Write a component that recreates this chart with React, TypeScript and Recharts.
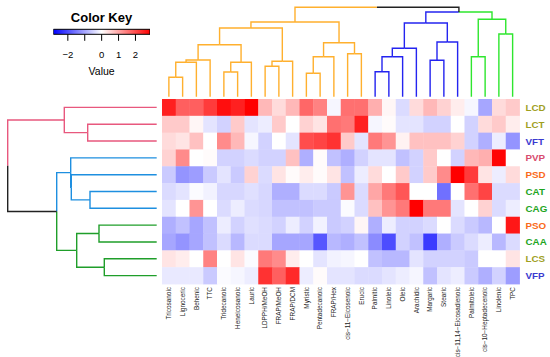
import React from 'react';
import { ScatterChart, Scatter, XAxis, YAxis, BarChart, Bar } from 'recharts';

const FONT = '"Liberation Sans", Arial, Helvetica, sans-serif';

const colLabels = [
  'Tricosanoic', 'Lignoceric', 'Behenic', 'TTC', 'Tridecanoic', 'Heneicosanoic', 'Lauric',
  'LDPPH/MeOH', 'FRAP/MeOH', 'FRAP/DCM', 'Myristic', 'Pentadecanoic', 'FRAP/Hex',
  'cis\u221211\u2212Eicosenoic', 'Erucic', 'Palmitic', 'Linoleic', 'Oleic', 'Arachidic', 'Margaric',
  'Stearic', 'cis\u221211,14\u2212Eicosadienoic', 'Palmitoleic', 'cis\u221210\u2212Heptadecenoic', 'Linolenic', 'TPC',
];

const rowLabels = ['LCD', 'LCT', 'VFT', 'PVP', 'PSD', 'CAT', 'CAG', 'PSO', 'CAA', 'LCS', 'VFP'];
const rowLabelColors = [
  '#9f9f1f', '#9f9f1f', '#3a3ad0', '#d84c6e', '#fa6a1a', '#1ea51e',
  '#1ea51e', '#fa6a1a', '#1ea51e', '#9f9f1f', '#3a3ad0',
];

// scaled values, one row per sample, columns in display order
const heatValues = [
  [2.5, 1.8, 1.8, 2.2, 2.7, 2.5, 2.9, 0.8, 0.4, 0.8, 1.7, 1.4, -0.1, 1.6, 1.6, 0.9, 0.1, -0.4, 0.4, 0.8, 0.5, 0.2, -0.1, -1.0, 0.4, 0.6],
  [0.6, 0.6, 0.1, -0.3, -0.5, 0.6, -0.3, -0.2, 0.6, 0.0, 0.5, 0.3, 1.6, 1.5, 2.5, -0.1, 0.05, -0.3, -0.3, -0.5, -0.5, 0.0, -0.5, 0.4, 0.6, 0.2],
  [0.4, 0.3, 0.7, 0.0, 1.3, 0.8, -0.1, -0.5, 0.0, -0.3, 2.0, 2.1, 2.3, 0.6, -0.3, 1.5, 1.2, 0.15, 0.7, 0.7, 0.7, 0.5, -0.5, -0.9, -0.2, -1.2],
  [0.5, 1.3, 0.0, 0.05, -0.5, -0.5, -0.4, -0.5, -0.5, 0.7, -0.9, 0.05, -0.7, -0.9, -0.5, -0.3, -0.3, -0.7, -0.5, 0.6, 0.0, -0.5, 0.8, 0.9, 2.8, 0.0],
  [-0.6, -1.2, -1.1, -0.6, -0.3, -0.6, 0.5, -0.4, 0.3, 0.05, 0.2, 0.05, 0.3, -0.7, -0.2, 0.4, 0.0, 0.6, -0.5, 0.6, 1.3, 2.9, 2.2, 0.3, -0.2, 0.4],
  [-0.4, -0.3, -0.05, -0.15, -0.45, -0.45, -0.35, -0.45, -0.9, -0.9, -0.4, -0.4, -0.6, 1.2, -0.4, 1.0, 1.5, 1.9, 0.0, 0.0, -1.6, 0.0, 1.6, 2.1, -0.4, -0.4],
  [-0.3, 0.0, 1.2, 0.0, -0.4, -0.2, -0.4, -0.45, -0.7, -0.7, -0.7, -0.6, -0.6, -0.05, -0.4, 0.7, 1.2, 1.5, 2.9, 1.5, 1.5, -0.3, 0.0, 0.5, -0.4, -0.2],
  [-0.9, -0.7, -1.0, -0.7, -0.2, -0.5, -0.35, -0.4, -0.5, -0.2, -0.5, -0.15, -0.6, -0.5, 0.1, -0.9, -0.2, -0.5, -0.5, -0.4, 0.0, -0.4, -0.6, -0.8, 0.0, 2.6],
  [-1.0, -1.2, -1.0, -0.7, -0.4, -0.8, -0.4, -0.4, -1.0, -1.0, -1.0, -1.9, -0.8, -0.9, -0.7, -1.3, -2.0, -0.5, -0.7, -2.2, -0.9, -0.6, -0.4, -0.2, -0.8, -0.4],
  [0.3, 0.2, 0.0, 1.4, 0.0, 0.3, -0.05, 1.5, 1.3, 0.2, 0.0, -0.3, -0.15, -0.1, 0.0, -0.7, -0.8, -0.8, -0.3, -0.5, -0.5, -0.5, -0.6, 0.0, 0.0, 0.3],
  [-0.25, -0.25, -0.25, -0.6, -0.05, -0.1, -0.2, 2.3, 1.8, 2.4, -0.2, 0.05, -0.3, -0.3, -0.4, -0.4, -0.3, -0.2, -0.1, -0.7, -0.3, -0.2, -0.6, -0.9, -0.5, -1.1],
];

// hclust style merges: negative = leaf (1-based, display order), positive = earlier merge
const colMerges: [number, number, number][] = [
  [-1, -2, 1.94], [1, -3, 3.44], [2, -4, 3.67], [-5, -6, 2.47], [4, -7, 3.44],
  [3, 5, 5.2], [-8, -9, 3.04], [7, -10, 3.54], [6, 8, 6.87], [-11, -12, 2.34],
  [10, -13, 4.0], [-14, -15, 4.3], [11, 12, 5.4], [9, 13, 7.47], [-16, -17, 2.5],
  [15, -18, 4.0], [16, -19, 4.84], [-20, -21, 3.64], [18, -22, 5.47], [17, 19, 7.37],
  [-23, -24, 4.0], [-25, -26, 6.27], [21, 22, 7.74], [20, 23, 8.47], [14, 24, 8.94],
];
const colGroups = [0, 0, 0, 0, 0, 0, 0, 0, 0, 0, 0, 0, 0, 0, 0, 1, 1, 1, 1, 1, 1, 1, 2, 2, 2, 2];
const colGroupColors = ['#ffb02e', '#2424f0', '#2ee62e'];

const rowMerges: [number, number, number][] = [
  [-2, -3, 6.9], [-1, 1, 9.24], [-6, -7, 6.67], [-5, 3, 8.54], [-4, 4, 8.6],
  [-8, -9, 5.77], [-10, -11, 5.24], [6, 7, 8.0], [5, 8, 10.0], [2, 9, 14.9],
];
const rowGroups = [0, 0, 0, 1, 1, 1, 1, 2, 2, 2, 2];
const rowGroupColors = ['#e8587e', '#1e8fe0', '#1f9e2a'];

const keyTicks = [-2, -1, 0, 1, 2];
const KEY_MAX = 2.86;

const PLOT_LEFT = 162;
const PLOT_RIGHT = 519.5;
const PLOT_TOP = 99;
const PLOT_BOTTOM = 284;
const CW = (PLOT_RIGHT - PLOT_LEFT) / colLabels.length;
const CH = (PLOT_BOTTOM - PLOT_TOP) / rowLabels.length;

function heatColor(v: number) {
  const t = Math.max(-1, Math.min(1, v / KEY_MAX));
  if (t < 0) {
    const c = Math.round(255 * (1 + t));
    return `rgb(${c},${c},255)`;
  }
  const c = Math.round(255 * (1 - t));
  return `rgb(255,${c},${c})`;
}

type Seg = { color: string; pts: { pos: number; h: number }[] };

function dendroSegments(merges: [number, number, number][], groups: number[], colors: string[]) {
  const nodes: { pos: number; h: number; group: number }[] = [];
  const info = (ref: number) =>
    ref < 0 ? { pos: -ref - 0.5, h: 0, group: groups[-ref - 1] } : nodes[ref - 1];
  const colorOf = (g: number) => (g < 0 ? '#222222' : colors[g]);
  const segs: Seg[] = [];
  merges.forEach(([a, b, h]) => {
    const L = info(a);
    const R = info(b);
    const mid = (L.pos + R.pos) / 2;
    segs.push({ color: colorOf(L.group), pts: [{ pos: L.pos, h: L.h }, { pos: L.pos, h }, { pos: mid, h }] });
    segs.push({ color: colorOf(R.group), pts: [{ pos: mid, h }, { pos: R.pos, h }, { pos: R.pos, h: R.h }] });
    nodes.push({ pos: mid, h, group: L.group === R.group ? L.group : -1 });
  });
  return segs;
}

const cells = heatValues.flatMap((row, r) => row.map((v, c) => ({ x: c + 0.5, y: r + 0.5, v })));
const colTicks = colLabels.map((_, i) => i + 0.5);
const rowTicks = rowLabels.map((_, i) => i + 0.5);
const keyData = [{ name: 'key', range: [-KEY_MAX, KEY_MAX] }];

const CellShape = (p: any) => (
  <rect
    x={p.cx - CW / 2}
    y={p.cy - CH / 2}
    width={CW + 0.4}
    height={CH + 0.4}
    fill={heatColor(p.payload.v)}
  />
);

const ColTick = (props: any) => {
  const { x, y, payload } = props;
  return (
    <text
      x={x}
      y={y}
      transform={`rotate(-90, ${x}, ${y})`}
      textAnchor="end"
      dy="0.35em"
      fontSize={6.4}
      fill="#222"
      fontFamily={FONT}
    >
      {colLabels[Math.floor(payload.value)]}
    </text>
  );
};

const RowTick = (props: any) => {
  const { x, y, payload } = props;
  const i = Math.floor(payload.value);
  return (
    <text x={x} y={y} dy="0.36em" fontSize={9.8} fontWeight="bold" fill={rowLabelColors[i]} fontFamily={FONT}>
      {rowLabels[i]}
    </text>
  );
};

const noDot = () => <g />;

export default function App() {
  const topSegs = dendroSegments(colMerges, colGroups, colGroupColors);
  const leftSegs = dendroSegments(rowMerges, rowGroups, rowGroupColors);

  return (
    <div style={{ position: 'absolute', left: 0, top: 0, width: 550, height: 357, background: '#fff', fontFamily: FONT }}>
      {/* heatmap */}
      <div style={{ position: 'absolute', left: 0, top: 0 }}>
        <ScatterChart width={550} height={357} margin={{ top: PLOT_TOP, right: 0, bottom: 0, left: PLOT_LEFT }}>
          <XAxis
            type="number"
            dataKey="x"
            domain={[0, colLabels.length]}
            ticks={colTicks}
            interval={0}
            height={357 - PLOT_BOTTOM}
            tick={ColTick}
            tickLine={false}
            axisLine={false}
            tickSize={0}
            tickMargin={3}
          />
          <YAxis
            type="number"
            dataKey="y"
            domain={[0, rowLabels.length]}
            reversed
            orientation="right"
            ticks={rowTicks}
            interval={0}
            width={550 - PLOT_RIGHT}
            tick={RowTick}
            tickLine={false}
            axisLine={false}
            tickSize={4}
            tickMargin={2}
          />
          <Scatter data={cells} shape={CellShape} isAnimationActive={false} />
        </ScatterChart>
      </div>

      {/* column dendrogram */}
      <div style={{ position: 'absolute', left: 0, top: 0 }}>
        <ScatterChart width={550} height={100} margin={{ top: 7.3, right: 550 - PLOT_RIGHT, bottom: 3.3, left: PLOT_LEFT }}>
          <XAxis type="number" dataKey="x" domain={[0, colLabels.length]} hide />
          <YAxis type="number" dataKey="y" domain={[0, 8.94]} hide />
          {topSegs.map((s, i) => (
            <Scatter
              key={i}
              data={s.pts.map((p) => ({ x: p.pos, y: p.h }))}
              line={{ stroke: s.color, strokeWidth: 1.4 }}
              shape={noDot}
              isAnimationActive={false}
            />
          ))}
        </ScatterChart>
      </div>

      {/* row dendrogram */}
      <div style={{ position: 'absolute', left: 0, top: 0 }}>
        <ScatterChart width={170} height={357} margin={{ top: PLOT_TOP, right: 13.3, bottom: 357 - PLOT_BOTTOM, left: 7.7 }}>
          <XAxis type="number" dataKey="x" domain={[0, 14.9]} reversed hide />
          <YAxis type="number" dataKey="y" domain={[0, rowLabels.length]} reversed hide />
          {leftSegs.map((s, i) => (
            <Scatter
              key={i}
              data={s.pts.map((p) => ({ x: p.h, y: p.pos }))}
              line={{ stroke: s.color, strokeWidth: 1.4 }}
              shape={noDot}
              isAnimationActive={false}
            />
          ))}
        </ScatterChart>
      </div>

      {/* color key */}
      <div
        style={{
          position: 'absolute', left: 1.5, top: 11, width: 200, textAlign: 'center',
          fontSize: 13, lineHeight: '13px', fontWeight: 'bold', color: '#000',
        }}
      >
        Color Key
      </div>
      <div style={{ position: 'absolute', left: 0, top: 0 }}>
        <BarChart
          layout="vertical"
          width={200}
          height={80}
          data={keyData}
          barCategoryGap={0}
          margin={{ top: 29.3, left: 53.3, right: 50, bottom: 0 }}
        >
          <defs>
            <linearGradient id="keyGrad" x1="0" y1="0" x2="1" y2="0">
              <stop offset="0" stopColor="#0000ff" />
              <stop offset="0.5" stopColor="#ffffff" />
              <stop offset="1" stopColor="#ff0000" />
            </linearGradient>
          </defs>
          <XAxis
            type="number"
            domain={[-KEY_MAX, KEY_MAX]}
            allowDataOverflow
            ticks={keyTicks}
            interval={0}
            height={45.7}
            axisLine={false}
            tickSize={6.5}
            tickMargin={10.5}
            tickLine={{ stroke: '#000' }}
            tick={{ fontSize: 9.5, fill: '#000', fontFamily: FONT }}
            tickFormatter={(v: number) => (v === -1 ? '' : v < 0 ? `\u2212${Math.abs(v)}` : String(v))}
            label={{ value: 'Value', position: 'insideBottom', offset: 5, fontSize: 10.5, fill: '#000', fontFamily: FONT }}
          />
          <YAxis type="category" dataKey="name" hide />
          <Bar dataKey="range" fill="url(#keyGrad)" stroke="#000" strokeWidth={1} isAnimationActive={false} />
        </BarChart>
      </div>
    </div>
  );
}
